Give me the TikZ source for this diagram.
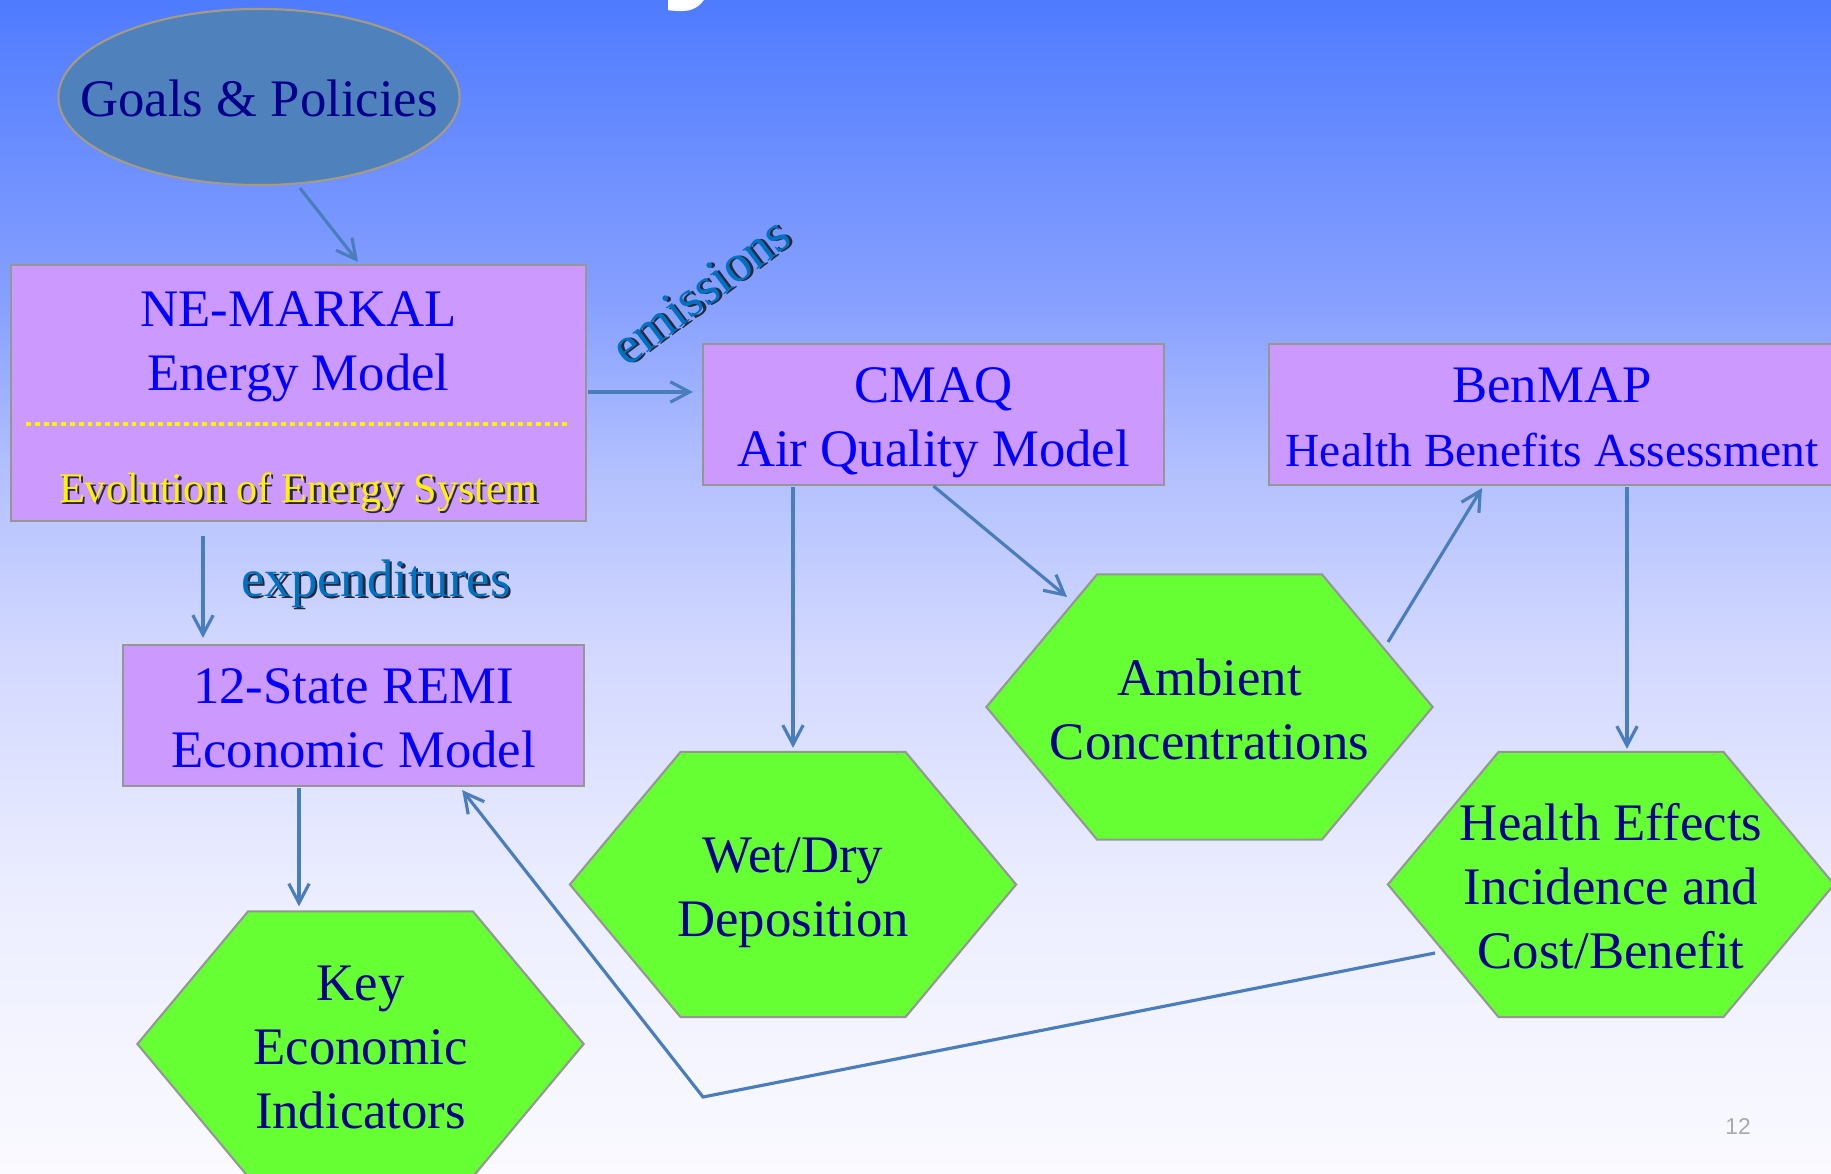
\documentclass[tikz,border=0pt]{standalone}
\usepackage{fontspec}
\setmainfont{Liberation Serif}
\setsansfont{Liberation Sans}
\usepackage{xcolor}
\usetikzlibrary{arrows.meta}
\usetikzlibrary{shapes.geometric}
\usetikzlibrary{shapes.symbols}
\usetikzlibrary{calc}
\definecolor{skytop}{RGB}{78,123,255}
\definecolor{skyA}{RGB}{135,160,255}
\definecolor{skyB}{RGB}{178,192,254}
\definecolor{skyC}{RGB}{210,216,255}
\definecolor{skyD}{RGB}{236,238,255}
\definecolor{skyE}{RGB}{250,250,255}
\definecolor{boxviolet}{RGB}{204,153,255}
\definecolor{boxedge}{RGB}{150,150,150}
\definecolor{hexgreen}{RGB}{102,255,51}
\definecolor{goalblue}{RGB}{79,129,189}
\definecolor{goaledge}{RGB}{165,155,130}
\definecolor{flowblue}{RGB}{74,126,187}
\definecolor{navytext}{RGB}{0,0,140}
\definecolor{labelblue}{RGB}{0,112,192}
\definecolor{shadowgray}{RGB}{40,40,60}
\definecolor{pagegray}{RGB}{170,170,170}
\pgfdeclareverticalshading{slidesky}{100bp}{color(0bp)=(skyE); color(25bp)=(skyE);
  color(36.7bp)=(skyD); color(47.3bp)=(skyC); color(55bp)=(skyB);
  color(62.2bp)=(skyA); color(75bp)=(skytop); color(100bp)=(skytop)}
\newcommand{\modelfont}{\fontsize{15}{18.2}\selectfont}
\newcommand{\notefont}{\fontsize{12}{14.4}\selectfont}
\newcommand{\shadowtext}[2]{\makebox[0pt][l]{\hspace{0.7pt}\raisebox{-0.7pt}{\textcolor{shadowgray}{#2}}}\textcolor{#1}{#2}}
% lines set in a box of no size, so the shape keeps its own size
\newcommand{\stacked}[1]{\raisebox{-5.7pt}[0pt][0pt]{\makebox[0pt]{\begin{tabular}{@{}c@{}}#1\end{tabular}}}}
\tikzset{
  modelbox/.style={rectangle, draw=boxedge, line width=0.6pt, fill=boxviolet,
    text=blue, font=\modelfont, inner sep=0pt},
  hexbox/.style={signal, signal to=west and east, signal pointer angle=100.3,
    draw=boxedge, line width=0.6pt, fill=hexgreen, text=navytext,
    font=\modelfont, minimum width=4.46cm, minimum height=2.65cm, inner sep=0pt},
  flow/.style={draw=flowblue, line width=0.9pt, -{Straight Barb[length=5.5pt,width=5.8pt]}}
}

\begin{document}
\begin{tikzpicture}[x=0.01cm,y=-0.01cm]
\useasboundingbox (0,0) rectangle (1831,1174);
\clip (0,0) rectangle (1831,1174);
\shade[shading=slidesky] (0,0) rectangle (1831,1174);
\node[font=\sffamily\bfseries\fontsize{44}{44}\selectfont, text=white, anchor=base] (titletail) at (704,-20) {y};

% models
\node[ellipse, draw=goaledge, line width=0.6pt, fill=goalblue, text=navytext, font=\modelfont,
  minimum width=4.01cm, minimum height=1.76cm, inner sep=0pt] (goals) at (259,97)
  {\raisebox{-5.6pt}[0pt][0pt]{\makebox[0pt]{Goals \& Policies}}};
\node[modelbox, minimum width=5.75cm, minimum height=2.56cm] (markal) at (298.5,393) {};
\node[text=blue, align=center, font=\modelfont] (markaltitle) at (298.5,347) {NE-MARKAL\\Energy Model};
\draw[yellow, line width=1.4pt, dash pattern=on 1.4pt off 1.1pt] (26,424) -- (567,424);
\node[font=\notefont] (evolution) at (298.5,493) {\shadowtext{yellow}{Evolution of Energy System}};
\node[modelbox, minimum width=4.61cm, minimum height=1.41cm] (cmaq) at (933.5,414.5) {\stacked{CMAQ\\Air Quality Model}};
\node[modelbox, minimum width=5.66cm, minimum height=1.41cm] (benmap) at (1552,414.5)
  {\stacked{BenMAP\\{\fontsize{13.5}{16}\selectfont Health Benefits Assessment}}};
\node[modelbox, minimum width=4.61cm, minimum height=1.41cm] (remi) at (353.5,715.5) {\stacked{12-State REMI\\Economic Model}};

% outputs
\node[hexbox] (key) at (360.5,1044) {\stacked{Key\\Economic\\Indicators}};
\node[hexbox] (wet) at (793,884.5) {\stacked{Wet/Dry\\Deposition}};
\node[hexbox] (ambient) at (1209.5,707) {\stacked{Ambient\\Concentrations}};
\node[hexbox] (health) at (1611,884.5) {\stacked{Health Effects\\Incidence and\\Cost/Benefit}};

\node[rotate=37, font=\modelfont] (emissions) at (701,292) {\shadowtext{labelblue}{emissions}};
\node[font=\modelfont] (expenditures) at (376,585) {\shadowtext{labelblue}{expenditures}};
\node[font=\sffamily\fontsize{6.5}{8}\selectfont, text=pagegray] (pagenum) at (1738,1127) {12};

\draw[flow] ($(goals.south)+(41,2)$) -- ($(markal.north)+(59.5,-2)$);
\draw[flow, shorten >=2.5pt] ($(markal.east)+(1,-1)$) -- ($(cmaq.west)+(0,-22.5)$);
\draw[flow] ($(markal.south)+(-95.5,14)$) -- ($(remi.north)+(-150.5,-6)$);
\draw[flow] ($(remi.south)+(-54.5,1)$) -- ($(key.north)+(-61.5,-4)$);
\draw[flow] ($(cmaq.south)+(-140.5,1)$) -- ($(wet.north)+(0,-3)$);
\draw[flow] (cmaq.south) -- ($(ambient.center)+(-142.5,-110)$);
\draw[flow] ($(ambient.center)+(178.5,-65)$) -- ($(benmap.south)+(-70,2)$);
\draw[flow] ($(benmap.south)+(75,1)$) -- ($(health.north)+(16,-2)$);
\coordinate (bend) at (703,1097);
\draw[flow] ($(health.center)+(-176,68.5)$) -- (bend) -- ($(remi.south east)+(-123,3)$);
\end{tikzpicture}
\end{document}
